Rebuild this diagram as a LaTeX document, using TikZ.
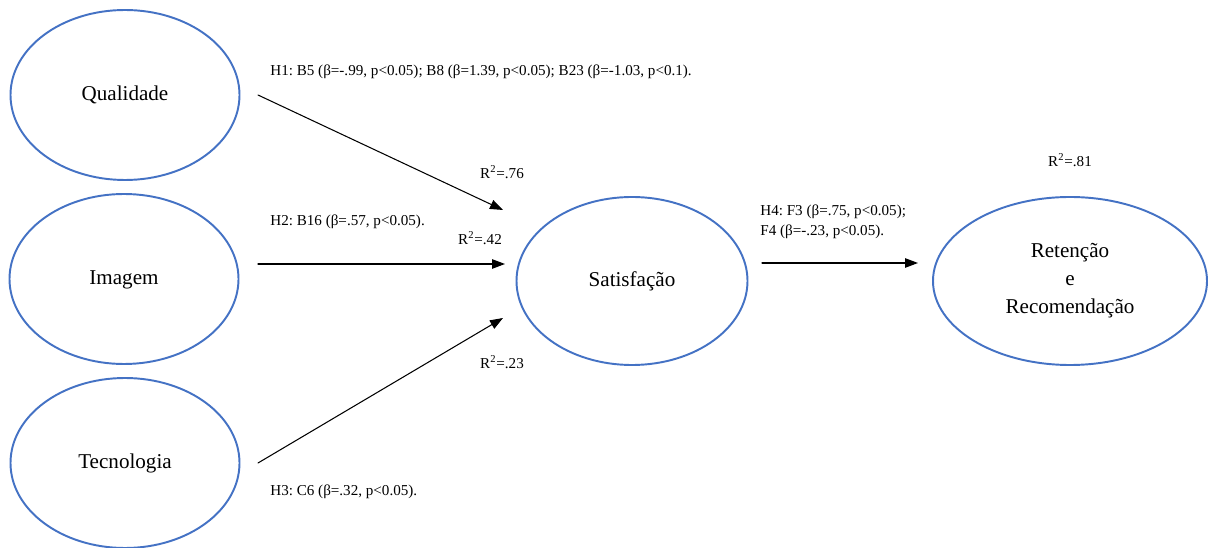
\documentclass[tikz,border=0pt]{standalone}
\usepackage{fontspec}
\setmainfont{Liberation Serif}
\usetikzlibrary{shapes.geometric,arrows.meta}
\frenchspacing

\definecolor{ellblue}{RGB}{68,114,196}

\begin{document}
\begin{tikzpicture}[x=1cm,y=1cm,line cap=round,line join=round,
    construto/.style={ellipse,draw=ellblue,line width=1.1pt,inner sep=0pt,
        minimum width=4.58cm,minimum height=3.40cm,align=center,
        font=\fontsize{12}{16}\selectfont},
    caminho/.style={-{Triangle[length=2.6mm,width=1.9mm]},line width=0.6pt},
    rotulo/.style={font=\fontsize{8.6}{11.4}\selectfont,inner sep=0pt}]
        \useasboundingbox (0,0) rectangle (24.22,10.94);

        % Construtos
        \node[construto,text depth=0.4ex] (qual) at (2.50,9.04) {Qualidade};
        \node[construto,text depth=0.4ex] (imag) at (2.48,5.36) {Imagem};
        \node[construto,text depth=0.4ex] (tecn) at (2.50,1.68) {Tecnologia};
        \node[construto,minimum width=4.62cm,minimum height=3.36cm]
            (satis) at (12.64,5.32) {Satisfação};
        \node[construto,minimum width=5.48cm,minimum height=3.36cm]
            (reten) at (21.40,5.32) {Retenção\\e\\Recomendação};

        % Pontas dos caminhos
        \coordinate (q1) at (5.16,9.04);
        \coordinate (q2) at (10.06,6.74);
        \coordinate (i1) at (5.16,5.66);
        \coordinate (i2) at (10.10,5.66);
        \coordinate (t1) at (5.16,1.68);
        \coordinate (t2) at (10.06,4.58);
        \coordinate (s1) at (15.24,5.68);
        \coordinate (s2) at (18.36,5.68);

        % Caminhos estruturais
        \draw[caminho] (q1) -- (q2);
        \draw[caminho] (i1) -- (i2);
        \draw[caminho] (t1) -- (t2);
        \draw[caminho] (s1) -- (s2);

        % Hipóteses
        \node[rotulo,anchor=west] (h1) at (5.40,9.50)
            {H1: B5 (β=-.99, p<0.05); B8 (β=1.39, p<0.05); B23 (β=-1.03, p<0.1).};
        \node[rotulo,anchor=west] (h2) at (5.40,6.50)
            {H2: B16 (β=.57, p<0.05).};
        \node[rotulo,anchor=west] (h3) at (5.40,1.10)
            {H3: C6 (β=.32, p<0.05).};
        \node[rotulo,anchor=west,align=left] (h4) at (15.20,6.50)
            {H4: F3 (β=.75, p<0.05);\\F4 (β=-.23, p<0.05).};

        % Coeficientes de determinação
        \node[rotulo] (r1) at (10.04,7.50) {R\textsuperscript{2}=.76};
        \node[rotulo] (r2) at (9.60,6.18) {R\textsuperscript{2}=.42};
        \node[rotulo] (r3) at (10.04,3.70) {R\textsuperscript{2}=.23};
        \node[rotulo] (r4) at (21.40,7.74) {R\textsuperscript{2}=.81};

    \end{tikzpicture}
\end{document}
